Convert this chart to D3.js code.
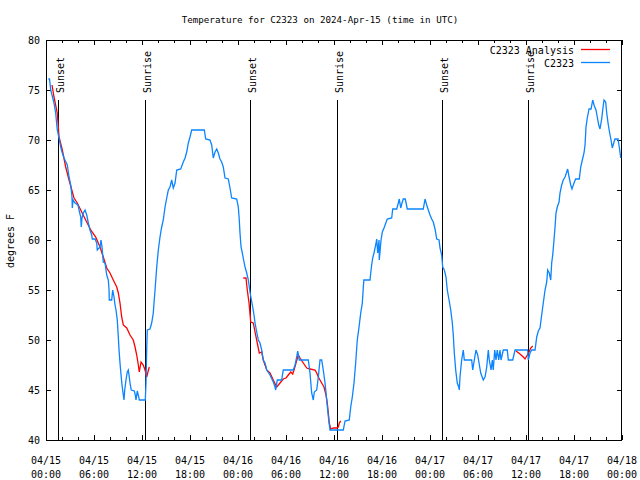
<!DOCTYPE html>
<html><head><meta charset="utf-8">
<script src="https://cdn.jsdelivr.net/npm/d3@7/dist/d3.min.js"></script>
<style>body{margin:0;background:#fff}svg{display:block}text{font-family:"DejaVu Sans Mono",monospace;fill:#000}</style>
</head><body>
<script>
// hours since 2024-04-15 00:00 UTC
const obsHours = [0.29,0.44,0.59,0.75,1.0,1.21,1.41,1.63,1.84,2.0,2.25,2.66,2.88,3.09,3.25,3.29,3.38,3.63,4.0,4.13,4.34,4.41,4.5,4.66,4.88,5.09,5.29,5.5,5.71,5.79,6.13,6.34,6.41,6.75,6.88,7.0,7.16,7.38,7.59,7.79,7.88,7.91,8.21,8.34,8.5,8.63,8.75,8.91,9.04,9.13,9.25,9.38,9.5,9.63,9.75,9.84,10.0,10.16,10.29,10.41,10.5,10.66,11.04,11.16,11.25,11.41,11.59,11.66,12.41,12.5,12.59,12.66,13.0,13.21,13.41,13.5,13.63,13.84,14.04,14.25,14.46,14.66,14.88,15.09,15.29,15.5,15.71,15.91,16.13,16.34,16.84,17.16,17.38,17.59,17.79,18.0,18.21,19.79,19.96,20.5,20.71,20.91,21.13,21.34,21.54,21.75,21.96,22.16,22.38,22.79,23.0,23.21,23.84,24.04,24.16,24.25,24.38,24.54,24.75,24.88,25.09,25.29,25.5,25.63,25.84,26.0,26.13,26.34,26.54,26.75,26.96,27.16,27.38,27.59,28.0,28.41,28.63,28.71,28.91,29.46,29.66,30.91,31.13,31.34,31.46,31.66,32.79,33.0,33.21,33.41,33.54,33.84,34.04,34.25,34.46,34.66,34.88,35.09,35.21,35.34,35.5,37.16,37.38,37.91,38.09,38.29,38.5,38.71,38.91,39.13,39.34,39.54,39.66,39.73,40.5,40.59,40.71,40.84,41.0,41.21,41.34,41.46,41.63,41.66,41.88,42.04,42.25,42.66,43.21,43.34,43.84,44.04,44.16,44.34,44.5,44.66,44.91,45.16,47.16,47.38,47.59,47.79,48.0,48.21,48.41,48.63,48.84,49.13,49.25,49.46,49.59,49.79,50.0,50.16,50.38,50.59,50.79,50.91,51.04,51.21,51.41,51.59,51.66,51.75,51.96,52.16,52.29,53.21,53.34,53.54,53.75,53.96,54.13,54.34,54.66,54.88,55.09,55.29,55.41,55.63,55.79,55.91,56.09,56.25,56.41,56.59,56.75,56.88,57.16,57.66,57.79,58.34,58.63,60.21,60.29,60.5,60.71,61.13,61.34,61.54,61.75,61.96,62.16,62.38,62.59,62.71,62.91,63.09,63.21,63.34,63.5,63.63,63.75,63.91,64.13,64.25,64.46,64.66,64.88,65.09,65.21,65.38,65.59,65.75,66.0,66.21,66.66,66.84,67.04,67.25,67.38,67.5,67.66,67.88,68.13,68.34,68.54,68.75,68.91,69.09,69.25,69.46,69.59,69.75,69.96,70.09,70.29,70.46,70.63,70.79,70.96,71.13,71.5,71.66,71.84];
const obsTemps = [76.1,76.1,75.0,74.5,73.7,72.7,71.0,70.2,69.3,68.8,68.2,67.5,66.3,65.5,64.3,63.2,64.0,63.7,63.5,63.0,62.3,61.3,62.2,62.7,63.0,62.5,61.7,61.0,60.5,60.1,60.1,59.7,59.0,59.3,60.0,59.3,57.8,57.7,56.5,56.0,55.0,54.0,54.0,55.0,54.3,53.5,53.0,52.0,50.3,49.0,47.7,46.5,45.5,44.7,44.0,45.0,46.0,46.8,47.0,46.3,45.7,45.0,44.9,44.5,44.0,44.9,44.3,44.0,44.0,45.7,49.2,51.0,51.1,51.7,52.7,53.7,55.0,57.3,59.0,60.3,61.3,62.0,63.3,64.2,65.0,65.3,66.0,65.2,65.7,67.0,67.1,67.8,68.2,68.8,69.7,70.3,71.0,71.0,70.1,70.0,69.5,68.2,68.8,69.1,68.7,68.1,67.8,67.3,66.2,66.1,65.2,64.2,64.1,63.3,62.0,60.7,59.3,58.7,57.8,57.3,56.7,56.0,54.8,54.2,53.3,52.5,51.7,50.8,50.0,49.7,49.0,48.0,47.7,47.0,46.5,45.8,45.3,45.0,46.0,46.0,47.0,47.0,47.5,48.3,48.9,48.0,48.0,46.7,44.7,44.0,44.8,45.0,46.3,48.0,48.0,47.0,45.7,44.0,43.0,42.0,41.0,41.0,41.9,42.0,43.3,44.3,45.7,47.7,50.0,51.3,52.7,53.7,55.2,56.0,56.0,56.7,57.5,58.2,58.7,59.5,60.1,58.7,60.0,58.0,60.0,60.8,61.2,62.1,62.2,63.1,63.1,63.7,64.1,63.2,63.7,64.1,64.1,63.1,63.1,64.1,63.5,63.0,62.5,62.1,61.8,61.1,60.1,60.0,59.2,58.5,57.3,57.0,56.3,55.0,54.0,53.0,51.7,50.5,48.7,47.0,45.7,45.3,45.0,46.3,48.0,49.0,48.0,48.0,47.0,48.0,49.0,48.5,47.7,46.7,46.0,46.3,47.3,49.0,48.0,47.0,48.0,47.0,49.0,48.0,49.0,48.0,49.0,48.0,49.0,49.0,48.0,48.0,49.0,49.0,48.0,48.7,49.0,49.0,50.3,50.9,51.2,52.5,53.7,55.0,55.8,57.0,56.7,56.0,57.7,58.5,60.0,61.3,62.7,63.3,63.8,64.7,65.5,66.0,66.3,66.8,67.1,66.3,65.5,65.1,65.7,66.1,66.1,67.3,68.0,68.7,69.5,71.3,72.2,73.1,73.1,74.0,73.4,73.0,72.3,71.5,71.1,72.1,73.0,74.0,73.8,72.7,71.5,70.7,70.0,69.2,69.7,70.1,70.1,69.3,68.2];

// analysis series, null = gap
const anaHours = [0.75,1.0,1.41,1.63,2.04,2.46,2.88,3.5,3.91,4.34,4.96,5.59,6.21,6.75,7.16,7.59,8.0,8.41,8.84,9.04,9.25,9.46,9.66,10.09,10.5,10.91,11.13,11.34,11.54,11.66,11.88,12.16,12.38,12.59,12.71,12.91,null,
  24.66,25.0,25.16,25.38,25.59,25.91,26.13,26.41,26.66,26.96,27.16,27.59,28.0,28.41,28.84,29.25,29.66,30.0,30.29,30.59,30.84,31.0,31.25,31.54,31.75,32.16,32.59,33.0,33.63,33.84,34.04,34.25,34.46,34.75,35.0,35.16,35.29,35.41,35.59,35.91,36.34,36.54,36.66,36.84,null,
  58.75,59.25,59.66,59.88,60.09,60.38,60.59,60.84];
const anaTemps = [75.5,74.3,72.7,70.3,69.0,67.3,66.0,64.2,63.7,63.0,62.0,61.0,60.3,59.3,58.3,57.2,56.7,56.0,55.3,54.7,53.7,52.3,51.5,51.2,50.5,50.0,49.3,48.5,47.5,46.8,47.8,47.5,47.0,46.3,46.7,47.3,null,
  56.2,56.2,55.0,53.7,51.8,51.7,50.8,49.7,48.7,48.8,48.0,47.0,46.7,46.0,45.3,45.7,46.1,46.2,46.5,46.8,46.6,47.0,47.7,48.5,48.2,47.7,47.2,47.1,47.0,46.7,46.3,46.0,45.7,45.3,44.5,43.7,42.7,41.7,41.1,41.2,41.2,41.3,41.7,41.9,null,
  48.9,48.6,48.3,48.1,48.4,48.8,49.2,49.4];

const sunHours = [1.54,12.41,25.54,36.41,49.54,60.29];
const sunLabels = ["Sunset","Sunrise","Sunset","Sunrise","Sunset","Sunrise"];
const xTickDates = ["04/15","04/15","04/15","04/15","04/16","04/16","04/16","04/16","04/17","04/17","04/17","04/17","04/18"];
const xTickTimes = ["00:00","06:00","12:00","18:00","00:00","06:00","12:00","18:00","00:00","06:00","12:00","18:00","00:00"];
const yTicks = [40,45,50,55,60,65,70,75,80];
const titleText = "Temperature for C2323 on 2024-Apr-15 (time in UTC)";
const yLabel = "degrees F";
const seriesNames = ["C2323 Analysis","C2323"];
const seriesColors = ["#ff0000","#0a84ff"];

const W=640,H=480, L=46,R=622,T=40,B=440;
const t0 = Date.UTC(2024,3,15);
const hr = h => new Date(t0 + h*3600e3);
const svg = d3.select("body").append("svg").attr("width",W).attr("height",H);
const x = d3.scaleUtc().domain([hr(0),hr(72)]).range([L,R]);
const y = d3.scaleLinear().domain([40,80]).range([B,T]);

// axes (inward ticks)
const majors = d3.range(0,73,6).map(hr);
const minors = d3.range(0,73,2).filter(h=>h%6).map(hr);
const g = svg.append("g").attr("shape-rendering","crispEdges");
g.append("g").attr("transform",`translate(0,${B})`).call(d3.axisBottom(x).tickValues(majors).tickSize(-5).tickFormat(""));
g.append("g").attr("transform",`translate(0,${B})`).call(d3.axisBottom(x).tickValues(minors).tickSize(-3).tickFormat(""));
g.append("g").attr("transform",`translate(0,${T})`).call(d3.axisTop(x).tickValues(majors).tickSize(-5).tickFormat(""));
g.append("g").attr("transform",`translate(0,${T})`).call(d3.axisTop(x).tickValues(minors).tickSize(-3).tickFormat(""));
g.append("g").attr("transform",`translate(${L},0)`).call(d3.axisLeft(y).tickValues(yTicks).tickSize(-5).tickPadding(6).tickFormat(d3.format("d")));
g.append("g").attr("transform",`translate(${R},0)`).call(d3.axisRight(y).tickValues(yTicks).tickSize(-5).tickFormat(""));
svg.selectAll(".domain").remove();
svg.selectAll(".tick line").attr("stroke","#000");
svg.selectAll(".tick text").attr("font-size",10).attr("font-family","DejaVu Sans Mono");
svg.append("rect").attr("x",L+0.5).attr("y",T+0.5).attr("width",R-L-1).attr("height",B-T).attr("fill","none").attr("stroke","#000").attr("shape-rendering","crispEdges");

// x tick labels
const xl = svg.append("g").attr("font-size",10).attr("text-anchor","middle");
majors.forEach((d,i)=>{
  xl.append("text").attr("x",x(d)).attr("y",464).text(xTickDates[i]);
  xl.append("text").attr("x",x(d)).attr("y",478).text(xTickTimes[i]);
});

// sun lines
sunHours.forEach((h,i)=>{
  const sx = Math.round(x(hr(h)))+0.5;
  svg.append("line").attr("x1",sx).attr("x2",sx).attr("y1",100).attr("y2",B).attr("stroke","#000").attr("shape-rendering","crispEdges");
  svg.append("text").attr("transform",`translate(${sx+5},93) rotate(-90)`).attr("font-size",10).text(sunLabels[i]);
});

// lines
const line = d3.line().defined(d=>d[1]!=null).x(d=>x(hr(d[0]))).y(d=>y(d[1]));
const obs = obsHours.map((h,i)=>[h,obsTemps[i]]);
const ana = anaHours.map((h,i)=>[h,anaTemps[i]]);
svg.append("path").datum(ana).attr("d",line).attr("fill","none").attr("stroke",seriesColors[0]).attr("stroke-width",1.3);
svg.append("path").datum(obs).attr("d",line).attr("fill","none").attr("stroke",seriesColors[1]).attr("stroke-width",1.3);

// title & labels
svg.append("text").attr("x",320).attr("y",23).attr("text-anchor","middle").attr("font-size",9.2).text(titleText);
svg.append("text").attr("transform","translate(14,241) rotate(-90)").attr("text-anchor","middle").attr("font-size",10).text(yLabel);

// legend
seriesNames.forEach((n,i)=>{
  const ly = 49.5 + i*13;
  svg.append("text").attr("x",574).attr("y",ly+4).attr("text-anchor","end").attr("font-size",10).text(n);
  svg.append("line").attr("x1",581).attr("x2",610).attr("y1",ly).attr("y2",ly).attr("stroke",seriesColors[i]).attr("stroke-width",1.3);
});
</script>
</body></html>
